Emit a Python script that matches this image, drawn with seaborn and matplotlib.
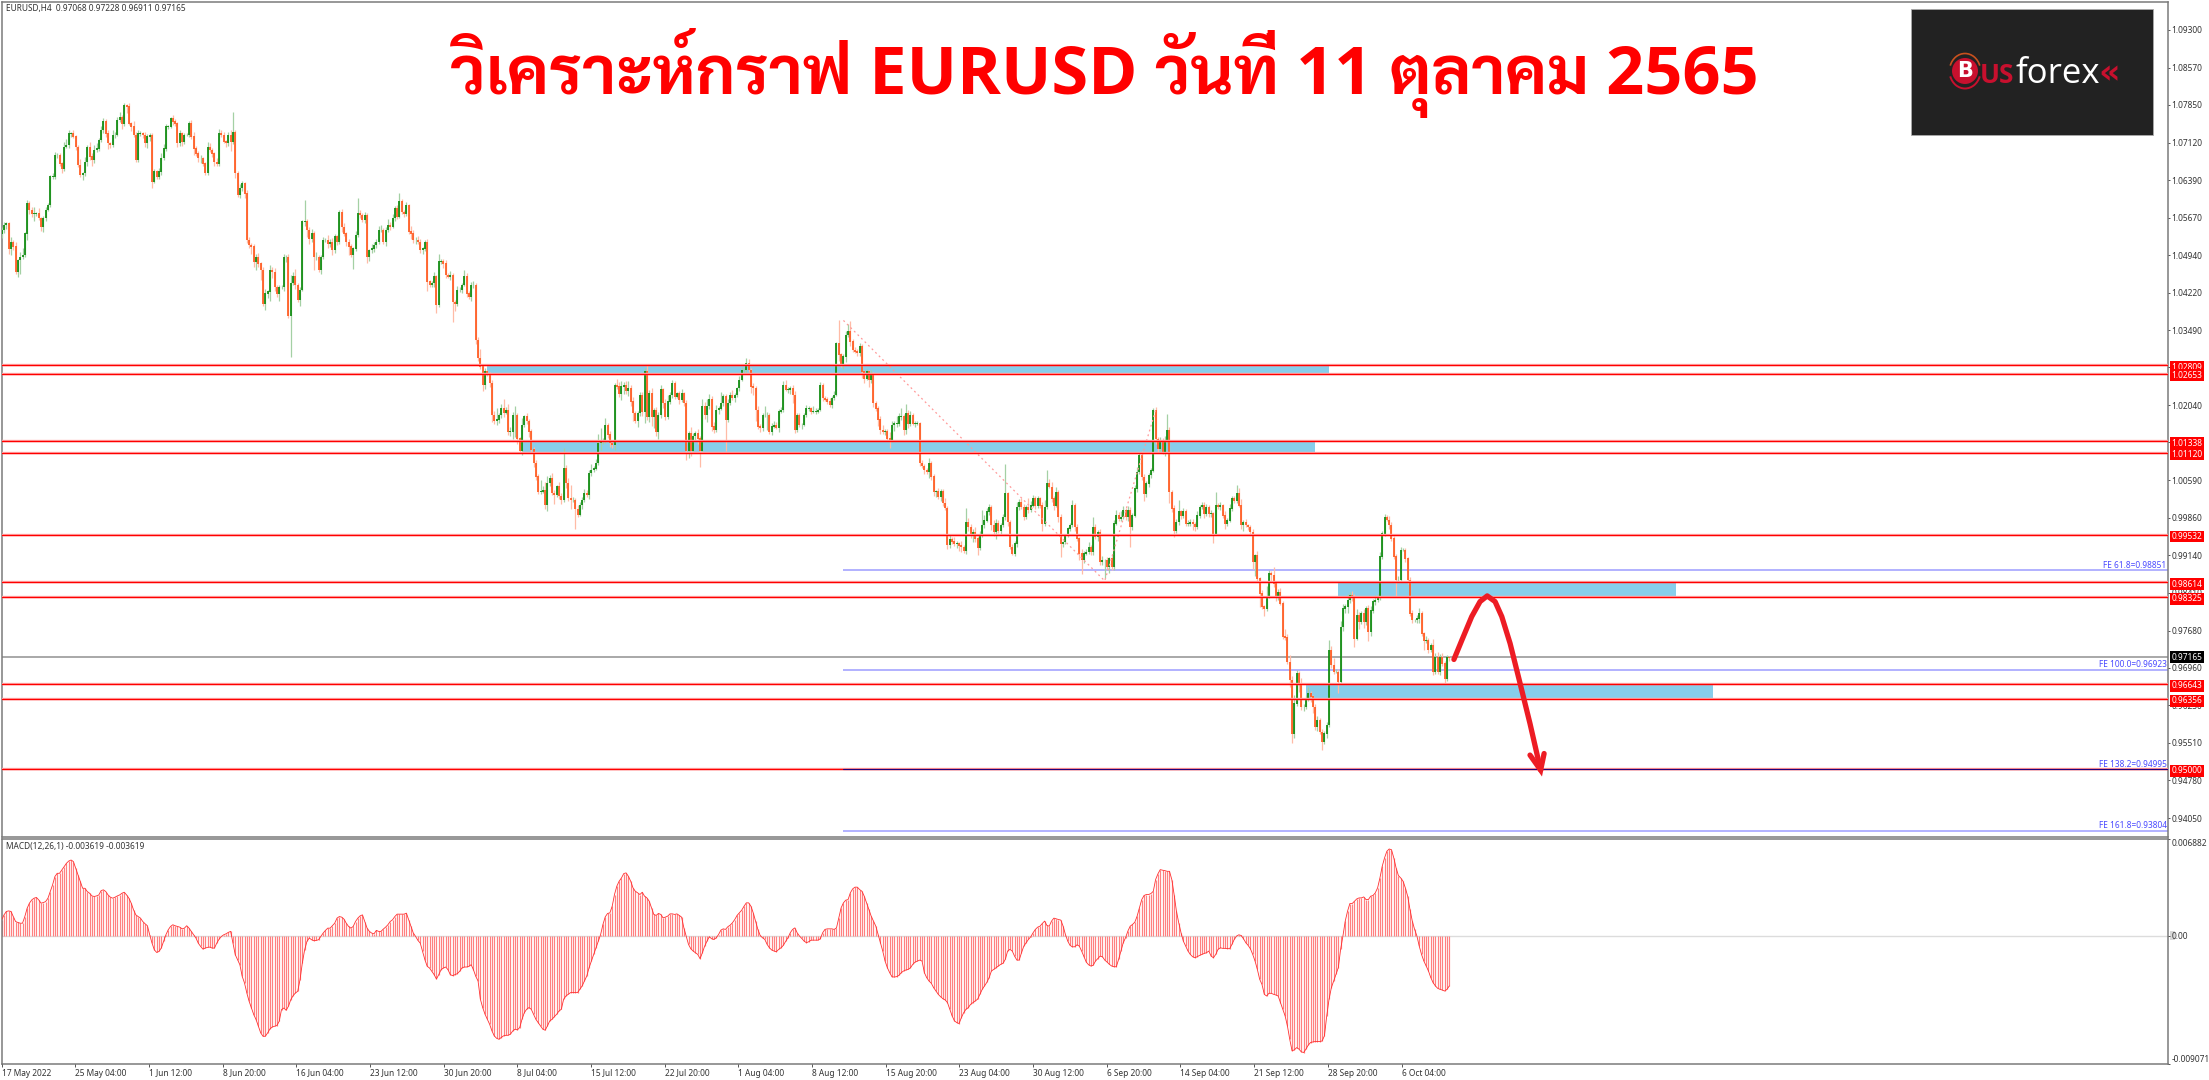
import numpy as np
import pandas as pd
import matplotlib
matplotlib.use('Agg')
import matplotlib.pyplot as plt
from matplotlib.patches import Rectangle, Circle, Arc
from matplotlib.transforms import blended_transform_factory
import seaborn as sns

# ---------- data (prices in pips, 1/10000) ----------
first_open = 10535
closes_a = [
10543,10553,10556,10507,10520,10511,10462,10485,10491,10495,
10536,10595,10582,10575,10575,10575,10566,10549,10566,10582,
10591,10646,10646,10688,10688,10672,10662,10704,10707,10730,
10730,10724,10704,10669,10649,10653,10675,10704,10685,10678,
10698,10701,10717,10736,10754,10730,10711,10707,10727,10727,
10756,10762,10749,10785,10782,10749,10743,10727,10678,10730,
10730,10727,10711,10724,10727,10636,10656,10646,10656,10682,
10701,10743,10743,10759,10753,10749,10711,10730,10714,10727,
10727,10749,10724,10701,10691,10682,10682,10672,10653,10704,
10698,10691,10675,10672,10730,10727,10714,10711,10727,10714,
10733,10653,10611,10624,10633,10614,10524,10514,10511,10482,
10491,10478,10466,10401,10420,10424,10466,10462,10433,10420,
10433,10433,10491,10491,10378,10440,10453,10437,10408,10427,
10559,10559,10543,10527,10536,10491,10491,10466,10491,10524,
10524,10517,10520,10504,10530,10520,10578,10549,10536,10520,
10511,10495,10507,10533,10575,10572,10562,10572,10491,10504,
10507,10514,10520,10543,10543,10520,10543,10553,10549,10566,
10585,10569,10598,10578,10575,10591,10540,10536,10524,10524,
10520,10504,10507,10520,10443,10437,10440,10453,10398,10482,
10482,10478,10456,10453,10456,10404,10401,10427,10427,10437,
10453,10420,10414,10437,10437,10330]
closes_b = [
10295,10279,10243,10269,10266,10247,10185,10173,10176,10185,
10198,10189,10195,10153,10153,10185,10185,10140,10115,10166,
10182,10173,10153,10118,10092,10066,10037,10037,10040,10011,
10053,10063,10034,10031,10047,10028,10021,10082,10053,10024,
10021,10021,10003,9992,10011,10021,10034,10031,10073,10079,
10082,10092,10131,10134,10134,10166,10147,10131,10127,10243,
10240,10227,10240,10243,10231,10237,10211,10189,10173,10189,
10224,10192,10269,10182,10227,10182,10195,10153,10185,10234,
10208,10182,10211,10224,10247,10221,10227,10215,10227,10208,
10115,10150,10115,10144,10150,10140,10115,10202,10185,10202,
10215,10163,10156,10195,10198,10208,10221,10176,10208,10224,
10218,10224,10237,10253,10272,10272,10285,10272,10240,10237,
10195,10163,10160,10185,10185,10185,10153,10163,10166,10160,
10192,10195,10243,10234,10234,10237,10224,10156,10185,10166,
10166,10185,10198,10198,10192,10192,10192,10195,10243,10218,
10215,10211,10205,10218,10224,10324,10302,10282,10298,10340,
10347,10327,10311,10308,10305,10318,10269,10256,10269,10253,
10266,10208,10198,10176,10156,10153,10153,10140,10137,10166,
10169,10169,10182,10182,10156,10189,10169,10185,10169,10169,
10169,10092,10086,10079,10076,10092,10066,10037,10037,10027,
10037,10015,10005,9934,9944,9940]
closes_c = [
9936,9936,9933,9930,9922,9978,9968,9952,9959,9946,
9929,9952,9972,9981,9998,10007,9972,9959,9975,9962,
9972,9988,10033,9978,9930,9917,9936,10007,10017,10007,
9989,10007,10001,10010,10023,10010,10023,10010,9975,10007,
10053,10046,10023,10010,10036,9988,9936,9939,9952,9965,
9972,10010,9968,9946,9917,9904,9917,9920,9930,9920,
9968,9949,9959,9901,9904,9904,9891,9907,9891,9975,
9991,9985,9988,10001,9988,10001,9968,9991,10043,10075,
10107,10065,10033,10052,10069,10078,10194,10139,10120,10136,
10114,10136,10156,10036,10004,9962,9978,9998,9991,9998,
9975,9975,9978,9974,9968,9991,10007,10010,9994,10007,9994,9994,
9956,10010,10007,10010,9991,9975,9981,10004,10023,10020,
10033,10010,9972,9978,9972,9968,9959,9901,9914,9869,
9840]
closes_d = [
9814,9811,9833,9878,9875,9859,9833,9843,9820,9756,
9755,9707,9672,9569,9627,9685,9666,9620,9620,9637,
9646,9640,9620,9582,9595,9572,9553,9569,9585,9730,
9701,9688,9688,9669,9775,9811,9814,9827,9836,9833,
9753,9798,9785,9801,9785,9811,9766,9807,9824,9827,
9833,9911,9956,9988,9982,9972,9946,9911,9866,9866,
9924,9924,9907,9866,9801,9788,9788,9791,9801,9762,
9749,9749,9730,9740,9688,9717,9688,9717,9704,9675,
9717,9716]

wick_up = [
5,6,3,2,9,3,8,2,10,14,
3,6,4,5,12,2,10,3,4,6,
5,3,8,5,4,3,3,9,12,6,
2,6,3,4,12,3,9,4,10,6,
9,10,4,8,5,3,6,3,10,6,
5,9,4,3,2,6,3,10,5,6,
4,3,6,5,3,3,5,3,6,10,
9,6,4,3,7,4,3,6,2,3,
3,4,6,8,4,5,6,3,3,9,
7,4,3,8,8,6,5,4,5,9,
39,3,5,8,4,3,6,5,3,4,
6,8,3,5,9,3,10,6,8,4,
4,3,5,3,5,16,8,14,3,6,
3,42,6,5,8,6,10,4,3,6,
4,10,5,7,5,3,4,6,8,4,
5,4,3,8,29,6,3,5,4,3,
8,5,6,8,9,4,6,12,5,8,
4,6,16,5,4,6,3,10,7,6,
8,5,3,4,5,3,4,9,3,14,
5,4,6,3,8,3,4,8,6,4,
12,6,5,6,7,3,
5,18,5,6,4,3,6,8,22,3,
8,18,6,12,8,5,18,4,3,14,
3,6,5,4,6,5,4,22,7,15,
14,6,10,5,3,8,6,39,6,10,
26,5,4,8,6,5,8,5,6,12,
5,8,18,26,6,14,4,8,5,3,
12,8,10,6,8,14,6,8,4,3,
6,5,6,14,6,10,4,5,6,10,
4,8,12,6,5,4,3,4,8,3,
6,4,12,6,5,8,5,14,8,14,
10,6,8,10,5,22,4,5,8,5,
10,4,3,8,6,3,10,8,4,6,
5,8,4,3,18,5,3,6,8,5,
5,5,8,10,6,5,6,8,4,3,
3,4,6,5,3,10,6,4,5,3,
4,5,6,4,8,3,44,3,5,8,
14,20,6,5,4,6,5,3,5,4,
6,3,5,4,8,10,4,5,12,8,
4,14,6,16,5,18,5,8,4,5,
4,3,5,4,3,10,4,5,3,6,
5,4,10,3,10,5,
8,5,3,8,4,28,8,6,5,10,
4,8,30,10,8,6,4,10,8,6,
5,5,57,4,3,6,5,10,5,8,
6,4,18,8,8,6,5,3,6,14,
26,8,10,6,10,4,5,3,3,3,
5,10,4,6,3,8,5,6,10,4,
20,6,4,5,8,3,6,4,8,6,
10,6,12,8,4,8,6,5,6,10,
4,8,5,6,4,5,5,6,4,6,
4,8,31,5,3,6,5,22,4,8,
5,6,5,6,4,8,3,6,6,5,4,8,
4,26,5,6,3,8,4,8,5,6,
16,10,12,4,6,3,4,5,3,8,
3,
6,4,22,8,5,16,4,6,8,5,
14,6,14,8,16,6,4,10,5,6,
12,5,4,6,8,3,5,5,6,20,
8,14,6,5,12,8,5,12,6,8,
5,12,6,5,8,4,6,8,5,10,
6,8,5,6,3,8,6,5,6,8,
5,3,4,4,5,6,3,8,10,5,
4,8,5,3,12,8,10,6,8,5,
4,2]
wick_dn = [
8,5,8,10,12,6,4,10,28,5,
4,12,8,6,14,5,3,8,10,5,
3,3,5,4,6,5,8,4,3,5,
8,3,6,5,4,10,5,8,6,12,
5,4,5,3,6,8,12,5,4,6,
3,4,10,4,12,3,8,5,3,4,
5,6,8,10,8,12,3,5,4,6,
3,5,4,3,6,5,8,6,8,4,
3,5,4,12,5,8,9,6,3,3,
5,6,8,5,6,4,3,8,5,18,
4,10,5,6,5,10,7,5,14,10,
16,6,20,6,12,8,18,12,8,6,
14,4,8,10,6,80,4,8,5,12,
3,8,14,12,8,25,6,4,8,5,
4,8,6,10,5,6,4,10,5,8,
16,5,28,4,3,6,4,5,12,8,
5,6,5,4,3,5,8,4,6,3,
5,4,3,5,6,4,5,10,6,8,
5,6,8,4,18,5,4,8,16,4,
5,8,6,3,6,39,14,5,4,6,
3,6,5,8,6,8,
6,5,12,8,6,8,14,5,8,6,
5,8,3,6,8,14,42,12,4,8,
4,6,10,5,8,6,5,4,3,8,
12,5,4,18,5,6,8,5,10,6,
18,4,39,5,3,8,5,4,8,6,
5,4,3,14,5,4,6,8,5,10,
4,8,12,14,5,10,8,16,4,12,
6,8,22,6,10,18,22,8,14,5,
10,6,4,5,6,5,3,8,4,5,
18,14,10,4,8,12,30,3,8,14,
6,8,5,3,8,4,5,61,4,3,
4,8,5,6,3,5,8,4,12,14,
22,6,8,5,4,29,5,6,4,3,
8,4,5,3,6,8,16,6,4,5,
8,3,4,5,6,3,5,4,3,5,
3,4,5,6,4,3,12,5,8,10,
5,8,4,3,5,6,12,10,4,14,
6,8,5,12,8,5,6,4,16,5,
12,8,5,6,10,8,10,5,4,8,
3,6,4,8,5,12,6,8,10,4,
8,6,4,8,6,5,
5,8,12,10,4,6,8,5,12,6,
14,6,4,5,3,6,10,8,14,5,
8,4,6,8,5,3,4,6,5,3,
8,5,6,4,3,6,5,4,14,5,
4,3,6,8,3,10,26,6,4,3,
5,4,8,4,12,27,5,3,4,6,
5,4,8,6,6,35,4,12,6,5,
3,6,5,4,6,8,39,5,3,6,
4,6,14,6,6,5,4,10,6,8,
5,8,5,22,6,14,6,5,8,6,
5,4,4,12,8,4,5,3,8,4,6,6,
18,4,3,6,5,10,4,3,4,5,
6,3,8,12,4,6,5,14,27,8,
27,
5,14,6,3,12,6,8,5,3,4,
6,3,14,19,8,5,16,5,8,4,
6,10,12,6,8,4,16,5,8,3,
5,4,3,22,3,8,10,12,6,8,
16,4,14,5,12,6,18,8,5,6,
3,6,4,5,3,8,4,5,31,5,
5,3,6,8,4,5,3,5,8,4,
18,5,6,3,6,4,5,6,4,8,
5,6]

# MACD in 1e-5
macd_a = [
113,148,172,176,172,136,101,94,89,89,
136,195,231,254,266,271,254,231,235,242,
266,313,360,419,442,442,466,489,513,529,
536,525,478,431,384,336,336,313,301,282,
278,282,289,320,325,313,289,273,266,273,
282,289,301,308,289,266,231,184,148,136,
125,101,85,71,7,-52,-99,-118,-111,-87,
-40,7,42,66,78,71,66,61,49,54,
71,54,31,7,-16,-52,-75,-94,-87,-82,
-80,-87,-87,-52,-24,-5,7,14,24,31,
-52,-134,-169,-205,-287,-334,-405,-464,-511,-558,
-593,-640,-687,-711,-711,-687,-659,-645,-640,-635,
-605,-522,-511,-527,-499,-452,-424,-405,-393,-311,
-193,-99,-40,-16,-28,-35,-33,-28,-5,19,
38,54,54,71,89,125,136,132,118,89,
66,54,66,101,125,141,148,101,54,31,
19,14,38,31,31,47,61,78,101,113,
136,153,153,153,153,160,113,66,19,-5,
-33,-52,-111,-169,-216,-228,-252,-275,-306,-275,
-240,-228,-221,-240,-275,-282,-275,-268,-252,-228,
-221,-221,-216,-205,-240,-287]
macd_b = [
-320,-449,-508,-555,-591,-626,-673,-708,-725,-732,
-720,-708,-704,-704,-696,-673,-661,-666,-649,-591,
-544,-520,-508,-520,-555,-591,-614,-638,-661,-668,
-638,-602,-591,-572,-555,-532,-520,-449,-426,-414,
-402,-402,-402,-402,-379,-355,-320,-285,-226,-179,
-132,-85,-38,9,80,134,158,162,209,292,
351,386,409,440,445,421,386,339,315,304,
292,308,280,268,245,198,151,144,158,151,
127,132,139,155,155,151,155,144,132,56,
-2,-61,-92,-108,-120,-132,-162,-120,-73,-38,
-7,-21,-26,-14,9,40,49,45,64,75,
92,115,144,162,181,209,233,233,209,162,
104,45,2,-14,-26,-61,-85,-101,-108,-113,
-96,-85,-68,-40,-14,21,45,56,21,-2,-19,-38,
-49,-42,-31,-31,-31,-31,-21,21,45,49,
49,49,45,56,127,198,233,252,256,304,
332,344,344,327,315,280,233,186,139,104,
68,9,-49,-108,-179,-226,-261,-290,-292,-289,
-280,-261,-249,-242,-238,-226,-202,-186,-179,-172,
-179,-261,-296,-320,-336,-367,-391,-414,-431,-445,
-454,-473,-520,-567,-602,-614,-621,-579,-544,-520,
-508,-485,-473,-461,-449]
macd_c = [
-414,-380,-355,-330,-296,-249,-238,-226,-214,-202,-195,-167,
-108,-96,-108,-144,-172,-172,-120,-73,-49,-26,
-7,21,45,61,68,87,104,73,68,104,
125,120,115,111,68,9,-38,-68,-78,-78,
-64,-73,-108,-148,-186,-205,-214,-209,-179,-162,
-144,-148,-172,-186,-202,-214,-219,-219,-167,-108,
-49,-14,33,68,80,96,139,198,256,285,
292,292,299,315,398,438,468,464,461,456,
456,398,292,174,92,21,-38,-73,-108,-132,
-148,-155,-148,-139,-132,-125,-120,-108,-144,-155,
-132,-96,-85,-89,-89,-90,-92,-61,-26,-2,7,
2,-21,-49,-68,-92,-132,-179,-238,-308,-344,
-414,-426,-407,-407,-414,-419,-426,-473,-520,-567,
-638,-732,-814,-807,-791,-802,-821,-826,-802,-774,
-755,-751,-748,-748,-748,-744,-708,-567,-449,-367,
-320,-273,-226,-96,-2,104,174,228,228,245,
261,268,268,275,256,256,280,285,304,339,
409,492,551,598,614,609,551,480,426,409,
386,339,280,186,104,45,-2,-73,-132,-179,
-214,-249,-296,-332,-355,-372,-379,-384,-391,-379,
-355]

level_values = [1.02809, 1.02653, 1.01338, 1.01120, 0.99532, 0.98614, 0.98325, 0.96643, 0.96356, 0.95000]
level_labels = ['1.02809', '1.02653', '1.01338', '1.01120', '0.99532', '0.98614', '0.98325', '0.96643', '0.96356', '0.95000']
last_price = 0.97165
fibo_values = [0.98851, 0.96923, 0.94995, 0.93804]
fibo_labels = ['FE 61.8=0.98851', 'FE 100.0=0.96923', 'FE 138.2=0.94995', 'FE 161.8=0.93804']
fibo_start = 364
zone_starts = [210, 225, 578, 564]
zone_ends = [574, 568, 724, 740]
zone_tops = [1.02809, 1.01338, 0.98614, 0.96643]
zone_bottoms = [1.02653, 1.01120, 0.98325, 0.96356]
trend_x = [364, 477, 499]
trend_y = [1.0368, 0.9864, 1.0194]
arrow_x = [628, 631.4, 635.7, 639.3, 642.4, 645.8, 648.7, 652.3, 656.6, 660.9, 665.5]
arrow_y = [0.9712, 0.9749, 0.9795, 0.9824, 0.9835, 0.9824, 0.9795, 0.9743, 0.9666, 0.9588, 0.9498]
head_x = [660.9, 665.5, 667.0]
head_y = [0.9527, 0.9498, 0.9530]
price_ticks = [1.09300, 1.08570, 1.07850, 1.07120, 1.06390, 1.05670, 1.04940, 1.04220, 1.03490, 1.02770,
               1.02040, 1.01320, 1.00590, 0.99860, 0.99140, 0.98410, 0.97680, 0.96960, 0.96230, 0.95510,
               0.94780, 0.94050]
time_labels = ['17 May 2022', '25 May 04:00', '1 Jun 12:00', '8 Jun 20:00', '16 Jun 04:00', '23 Jun 12:00',
               '30 Jun 20:00', '8 Jul 04:00', '15 Jul 12:00', '22 Jul 20:00', '1 Aug 04:00', '8 Aug 12:00',
               '15 Aug 20:00', '23 Aug 04:00', '30 Aug 12:00', '6 Sep 20:00', '14 Sep 04:00', '21 Sep 12:00',
               '28 Sep 20:00', '6 Oct 04:00']
title_text = 'วิเคราะห์กราฟ EURUSD วันที่ 11 ตุลาคม 2565'

# ---------- build ----------
closes = np.array(closes_a + closes_b + closes_c + closes_d, dtype=float)
n = min(len(closes), len(wick_up), len(wick_dn))
closes = closes[:n]
opens = np.r_[first_open, closes[:-1]]
highs = np.maximum(opens, closes) + np.array(wick_up[:n])
lows = np.minimum(opens, closes) - np.array(wick_dn[:n])
candles = pd.DataFrame({'i': np.arange(n), 'open': opens / 1e4, 'close': closes / 1e4,
                        'high': highs / 1e4, 'low': lows / 1e4})
macd = np.array(macd_a + macd_b + macd_c, dtype=float) * 1e-5
macd_df = pd.DataFrame({'i': np.arange(len(macd)), 'macd': macd})

sns.set_theme(style='white', rc={'axes.grid': False, 'axes.axisbelow': False})
W, H = 2209, 1080
plt.rcParams['font.family'] = ['Noto Sans', 'DejaVu Sans']
fig = plt.figure(figsize=(W / 100, H / 100), dpi=100, facecolor='white')

L, R = 1.5 / W, 2168 / W
ax1 = fig.add_axes([L, 1 - 837 / H, R - L, (837 - 1.5) / H])
ax2 = fig.add_axes([L, 1 - 1064 / H, R - L, (1064 - 838.5) / H])
xlim = (-0.09, 936.8)
TXT = '#333333'
FS = 6.0
GREY = '#7a7a7a'

for ax in (ax1, ax2):
    ax.set_xlim(*xlim)
    ax.yaxis.tick_right()
    for s in ax.spines.values():
        s.set_color(GREY)
        s.set_linewidth(1.1)
    ax.tick_params(axis='y', which='major', right=True, left=False, length=1.5, width=0.7, color='#555555',
                   labelsize=FS, labelcolor=TXT, pad=1.2)

# ---------- price panel ----------
ax1.set_ylim(0.93685, 1.09851)
ax1.set_yticks(price_ticks)
ax1.set_yticklabels(['%.5f' % v for v in price_ticks])
ax1.set_xticks([])

for s, e, t, b in zip(zone_starts, zone_ends, zone_tops, zone_bottoms):
    ax1.add_patch(Rectangle((s, b), e - s, t - b, facecolor='#87CEEB', edgecolor='none', zorder=1))

ax1.axhline(last_price, color='#9a9a9a', lw=1.2, zorder=2.5)
for v in fibo_values:
    ax1.plot([fibo_start, xlim[1]], [v, v], color='#9d9dff', lw=1.1, zorder=2.5, solid_capstyle='butt')

up = candles[candles['close'] >= candles['open']]
dn = candles[candles['close'] < candles['open']]
for frame, body, wick in ((up, '#0d8a0d', '#a4d0a4'), (dn, '#ff5a1e', '#ffbba6')):
    ax1.vlines(frame['i'], frame['low'], frame['high'], color=wick, lw=0.9, zorder=3)
    ax1.vlines(frame['i'], frame[['open', 'close']].min(axis=1) - 0.00005,
               frame[['open', 'close']].max(axis=1) + 0.00005, color=body, lw=1.25, zorder=3.2,
               capstyle='butt')

sns.lineplot(x=trend_x, y=trend_y, ax=ax1, color='#ff9a9a', lw=0.9, linestyle=(0, (1.5, 2.5)),
             zorder=3.5, errorbar=None, sort=False, legend=False)
ax1.set_xlim(*xlim)
ax1.set_ylim(0.93685, 1.09851)
ax1.set_xlabel('')
ax1.set_ylabel('')

for v in level_values:
    ax1.axhline(v, color='#ffb3b3', lw=1.7, zorder=3.8)
    ax1.axhline(v, color='#ff0000', lw=1.0, zorder=4)
ax1.plot([fibo_start, xlim[1]], [fibo_values[2]] * 2, color='#22007a', lw=0.8, zorder=4.1)

ax1.plot(arrow_x, arrow_y, color='#ed1c24', lw=3.8, zorder=6, solid_capstyle='round', solid_joinstyle='round')
ax1.plot(head_x, head_y, color='#ed1c24', lw=3.8, zorder=6, solid_capstyle='round', solid_joinstyle='miter')

tr = blended_transform_factory(ax1.transAxes, ax1.transData)
for v, t in zip(level_values + [last_price], level_labels + ['0.97165']):
    fc = '#000000' if v == last_price else '#ff0000'
    dy = 0 if v == last_price else -1.3
    ax1.annotate(t, xy=(1, v), xycoords=tr, xytext=(2.5, dy), textcoords='offset points',
                 ha='left', va='center', fontsize=FS, color='white', annotation_clip=False, zorder=8,
                 bbox=dict(boxstyle='square,pad=0.16', fc=fc, ec='none'))
for v, t in zip(fibo_values, fibo_labels):
    ax1.annotate(t, xy=(1, v), xycoords=tr, xytext=(-1, 0.3), textcoords='offset points',
                 ha='right', va='bottom', fontsize=FS, color='#4a4aff', zorder=7)

ax1.text(4 / (2168 - 1.5), 1 - 7 / 835.5, 'EURUSD,H4  0.97068 0.97228 0.96911 0.97165', transform=ax1.transAxes,
         ha='left', va='center', fontsize=FS, color=TXT)

# ---------- MACD panel ----------
ax2.set_ylim(-0.009071, 0.006882)
ax2.axhline(0, color='#dcdcdc', lw=1.0, zorder=1)
ax2.vlines(macd_df['i'], 0, macd_df['macd'], color='#ff8080', lw=0.85, zorder=2)
sns.lineplot(data=macd_df, x='i', y='macd', ax=ax2, color='#ff3030', lw=0.6, zorder=3, errorbar=None, legend=False)
ax2.set_xlim(*xlim)
ax2.set_ylim(-0.009071, 0.006882)
ax2.set_xlabel('')
ax2.set_ylabel('')
ax2.set_yticks([0.006882, 0.0, -0.009071])
ax2.set_yticklabels(['0.006882', '0.00', '-0.009071'])
labs = ax2.get_yticklabels()
labs[0].set_va('top')
labs[2].set_va('bottom')
ax2.add_patch(Rectangle((937.6, -0.00033), 2.4, 0.00066, facecolor='#d8d8d8', edgecolor='none', clip_on=False, zorder=1))
ax2.text(4 / (2168 - 1.5), 1 - 8 / 225.5, 'MACD(12,26,1) -0.003619 -0.003619', transform=ax2.transAxes,
         ha='left', va='center', fontsize=FS, color=TXT)

tick_bars = np.arange(len(time_labels)) * 31.86
ax2.set_xticks(tick_bars)
ax2.set_xticklabels(time_labels, ha='left', fontsize=FS, color=TXT)
ax2.tick_params(axis='x', bottom=True, length=1.8, width=0.7, color='#555555', pad=1.5)

# ---------- title and logo ----------
px = lambda x: x / W
py = lambda y: 1 - y / H
fig.text(px(1105), py(94), title_text, family=['Open Sans', 'Sarabun'], fontweight='bold', fontsize=48,
         color='#ff0000', ha='center', va='baseline', zorder=10)

fig.add_artist(Rectangle((px(1910.7), py(135)), 242.6 / W, 126.3 / H, transform=fig.transFigure,
                         facecolor='#222222', edgecolor='#aaaaaa', lw=0.6, zorder=9))
fig.add_artist(Circle((1965, H - 71), 13, transform=None, facecolor='#c8102e', edgecolor='none', zorder=10))
fig.add_artist(Arc((1965, H - 71), 31, 35, theta1=20, theta2=160, transform=None, color='#c8501e', lw=1.2, zorder=10))
fig.add_artist(Arc((1965, H - 71), 31, 35, theta1=200, theta2=340, transform=None, color='#c8102e', lw=1.4, zorder=10))
fig.text(px(1965), py(71), 'B', color='white', fontsize=15, fontweight='bold', ha='center', va='center',
         family='DejaVu Sans', zorder=11)
fig.text(px(1980), py(83), 'US', color='#c8102e', fontsize=19, fontweight='bold', ha='left', va='baseline',
         family='Open Sans', zorder=11)
fig.text(px(2016), py(83), 'forex', color='white', fontsize=25, ha='left', va='baseline',
         family='Open Sans', zorder=11)
fig.text(px(2098), py(83), '«', color='#c8102e', fontsize=24, fontweight='bold', ha='left', va='baseline',
         family='DejaVu Sans', zorder=11)

fig.savefig('out.png', dpi=100, facecolor='white')
